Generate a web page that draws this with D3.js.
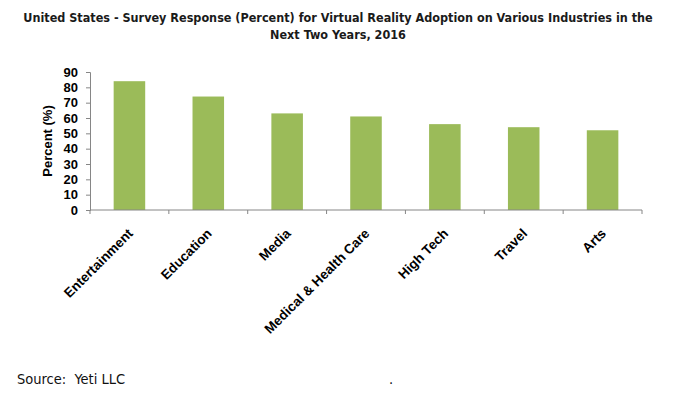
<!DOCTYPE html>
<html>
<head>
<meta charset="utf-8">
<script src="https://cdn.jsdelivr.net/npm/d3@7"></script>
<style>
  body { margin: 0; background: #fff; }
  .title { font-family: "DejaVu Sans Condensed", "DejaVu Sans", sans-serif; font-size: 12.5px; font-weight: bold; fill: #1a1a1a; }
  .tick text { font-family: "Liberation Sans", Arial, sans-serif; font-size: 13px; font-weight: bold; fill: #000; }
  .axisText { font-family: "Liberation Sans", Arial, sans-serif; font-size: 13px; font-weight: bold; fill: #000; }
  .source { font-family: "DejaVu Sans Condensed", "DejaVu Sans", sans-serif; font-size: 14.5px; fill: #111; white-space: pre; }
</style>
</head>
<body>
<div class="chart"></div>
<script>
var svgWidth = 677;
var svgHeight = 396;

// data
var categories = ["Entertainment", "Education", "Media", "Medical & Health Care", "High Tech", "Travel", "Arts"];
var values = [84, 74, 63, 61, 56, 54, 52];
var yTicks = [0, 10, 20, 30, 40, 50, 60, 70, 80, 90];

var margin = { top: 72, right: 35, bottom: 186, left: 90 };
var width = svgWidth - margin.left - margin.right;
var height = svgHeight - margin.top - margin.bottom;

var svg = d3.select(".chart")
  .append("svg")
  .attr("width", svgWidth)
  .attr("height", svgHeight);

// title
var title = svg.append("text")
  .attr("class", "title")
  .attr("text-anchor", "middle");
title.append("tspan").attr("x", 338).attr("y", 22)
  .text("United States - Survey Response (Percent) for Virtual Reality Adoption on Various Industries in the");
title.append("tspan").attr("x", 338).attr("y", 39)
  .text("Next Two Years, 2016");

var chartGroup = svg.append("g")
  .attr("transform", `translate(${margin.left}, ${margin.top})`);

var x_scale = d3.scaleBand()
  .domain(categories)
  .range([0, width])
  .paddingInner(0.6)
  .paddingOuter(0.3);

var y_scale = d3.scaleLinear()
  .domain([0, 90])
  .range([height, 0]);

// bars
chartGroup.selectAll("rect")
  .data(values)
  .enter()
  .append("rect")
  .attr("x", (d, i) => x_scale(categories[i]))
  .attr("y", d => y_scale(d))
  .attr("width", x_scale.bandwidth())
  .attr("height", d => height - y_scale(d))
  .attr("fill", "#9bbb59");

// y axis
var leftAxis = d3.axisLeft(y_scale).tickValues(yTicks).tickSize(4).tickPadding(8);
var yAxis = chartGroup.append("g").call(leftAxis);
yAxis.select(".domain").attr("stroke", "#868686");
yAxis.selectAll(".tick line").attr("stroke", "#868686");

// x axis: ticks at category boundaries
var xg = chartGroup.append("g").attr("transform", `translate(0, ${height})`);
xg.append("line")
  .attr("x1", 0).attr("x2", width)
  .attr("stroke", "#868686");
xg.selectAll(".bound")
  .data(d3.range(categories.length + 1))
  .enter()
  .append("line")
  .attr("x1", i => i * width / categories.length)
  .attr("x2", i => i * width / categories.length)
  .attr("y1", 0).attr("y2", 4)
  .attr("stroke", "#868686");

xg.selectAll(".lbl")
  .data(categories)
  .enter()
  .append("g")
  .attr("class", "tick")
  .attr("transform", d => `translate(${x_scale(d) + x_scale.bandwidth() / 2 + 1}, 21) rotate(-45)`)
  .append("text")
  .style("font-size", "13.5px")
  .attr("text-anchor", "end")
  .attr("dy", "0.35em")
  .text(d => d);

// y label
chartGroup.append("text")
  .attr("class", "axisText")
  .attr("transform", "rotate(-90)")
  .attr("x", 0 - height / 2)
  .attr("y", -38)
  .attr("text-anchor", "middle")
  .text("Percent (%)");

// source
svg.append("text")
  .attr("class", "source")
  .attr("x", 17)
  .attr("y", 384)
  .text("Source:  Yeti LLC");
svg.append("text")
  .attr("class", "source")
  .attr("x", 389)
  .attr("y", 384)
  .text(".");
</script>
</body>
</html>
